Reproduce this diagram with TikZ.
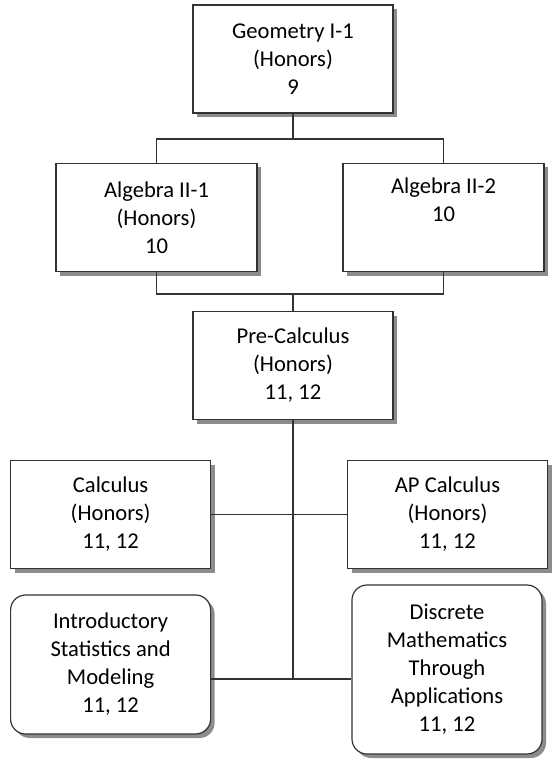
\documentclass[tikz,border=0pt]{standalone}
\usepackage{fontspec}
\setmainfont{Carlito}
\usetikzlibrary{shadows}

\begin{document}
\begin{tikzpicture}[
x=0.5pt, y=-0.5pt,
course/.style={
	rectangle, draw=black!80, line width=0.6pt,
	fill=white, align=center, inner sep=0pt,
	minimum width=100pt, minimum height=54pt,
	font=\fontsize{11.3}{14}\selectfont,
	drop shadow={shadow xshift=2pt, shadow yshift=-2pt, fill=black!45, opacity=1}
},
elective/.style={
	course, rounded corners=7.5pt
},
line width=0.6pt, draw=black!80
]
\useasboundingbox (0,0) rectangle (552,759);
\node[course] (geo) at (293,59) {Geometry I-1\\(Honors)\\9};
\node[course, minimum width=100.5pt] (alg1) at (156.5,217.5) {Algebra II-1\\(Honors)\\10};
\node[course, minimum width=100.5pt] (alg2) at (443.5,217.5) {Algebra II-2\\10\\\strut};
\node[course] (pre) at (293,365.5) {Pre-Calculus\\(Honors)\\11, 12};
\node[course] (calc) at (110.6,514.5) {Calculus\\(Honors)\\11, 12};
\node[course] (apcalc) at (447.5,514.5) {AP Calculus\\(Honors)\\11, 12};
\node[elective, minimum height=69.5pt] (stats) at (110.6,664.5) {Introductory\\Statistics and\\Modeling\\11, 12};
\node[elective, minimum width=95pt, minimum height=84.5pt] (disc) at (447,669.5) {Discrete\\Mathematics\\Through\\Applications\\11, 12};
\coordinate (top) at (293,139);
\coordinate (mid) at (293,294);
\coordinate (low) at (293,679);
% connectors
\draw (geo) -- (top);
\draw (alg1) |- (top) -| (alg2);
\draw (alg1) |- (mid) -| (alg2);
\draw (mid) -- (pre);
\draw (pre) -- (low);
\draw (calc) -- (apcalc);
\draw (stats.east |- low) -- (disc.west |- low);
\end{tikzpicture}
\end{document}
